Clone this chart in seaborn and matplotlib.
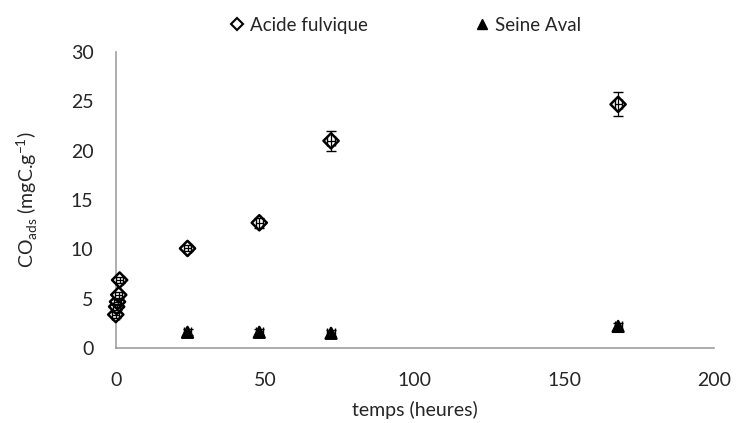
import numpy as np
import pandas as pd
import seaborn as sns
from matplotlib import pyplot as plt

sns.set_style('white')
plt.rcParams['font.family'] = ['Lato', 'DejaVu Sans']
plt.rcParams['mathtext.fontset'] = 'custom'
plt.rcParams['mathtext.rm'] = 'Lato'

# Acide fulvique
af_t = [0, 0.3, 0.6, 1.0, 1.3, 24, 48, 72, 168]
af_c = [3.4, 4.2, 4.7, 5.4, 6.9, 10.1, 12.7, 21.0, 24.7]
af_err = [0.3, 0.3, 0.3, 0.3, 0.3, 0.3, 0.5, 1.0, 1.2]

# Seine Aval
sa_t = [24, 48, 72, 168]
sa_c = [1.6, 1.6, 1.5, 2.2]
sa_err = [0.3, 0.3, 0.3, 0.3]

df = pd.concat([
    pd.DataFrame({'t': af_t, 'c': af_c, 'err': af_err, 'serie': 'Acide fulvique'}),
    pd.DataFrame({'t': sa_t, 'c': sa_c, 'err': sa_err, 'serie': 'Seine Aval'}),
])

fig = plt.figure(figsize=(7.42, 4.23), dpi=100)
ax = fig.add_axes([0.156, 0.177, 0.806, 0.7])

sns.scatterplot(data=df, x='t', y='c', hue='serie', style='serie',
                markers={'Acide fulvique': 'D', 'Seine Aval': '^'},
                palette={'Acide fulvique': 'white', 'Seine Aval': 'black'},
                edgecolor='black', linewidth=1.8, s=60, ax=ax, zorder=3,
                legend=False, clip_on=False)

for name, g in df.groupby('serie'):
    ax.errorbar(g['t'], g['c'], yerr=g['err'], xerr=1.2, fmt='none', ecolor='black',
                elinewidth=0.9, capsize=3.5, zorder=4, clip_on=False)

ax.set_xlim(0, 200)
ax.set_ylim(0, 30)
ax.set_xticks([0, 50, 100, 150, 200])
ax.set_yticks([0, 5, 10, 15, 20, 25, 30])
ax.tick_params(labelsize=14, length=0)
ax.tick_params(axis='y', pad=16)
ax.tick_params(axis='x', pad=17)
ax.set_xlabel('temps (heures)', fontsize=14, labelpad=9)
ax.set_ylabel('CO$_{\\mathrm{ads}}$ (mgC.g$^{\\mathrm{-1}}$)', fontsize=14, labelpad=22)
sns.despine(ax=ax)
for s in ['left', 'bottom']:
    ax.spines[s].set_color('#a0a0a0')
    ax.spines[s].set_linewidth(1.2)
    ax.spines[s].set_zorder(1)

h1 = plt.Line2D([], [], marker='D', color='black', markerfacecolor='white', linestyle='none', markersize=6, markeredgewidth=1.5)
h2 = plt.Line2D([], [], marker='^', color='black', linestyle='none', markersize=7)
fig.legend([h1, h2], ['Acide fulvique', 'Seine Aval'], loc='upper center',
           bbox_to_anchor=(0.545, 1.0), ncol=2, frameon=False, fontsize=13.5,
           handletextpad=0.2, columnspacing=5.6, handlelength=1)

fig.savefig('out.png', dpi=100)
